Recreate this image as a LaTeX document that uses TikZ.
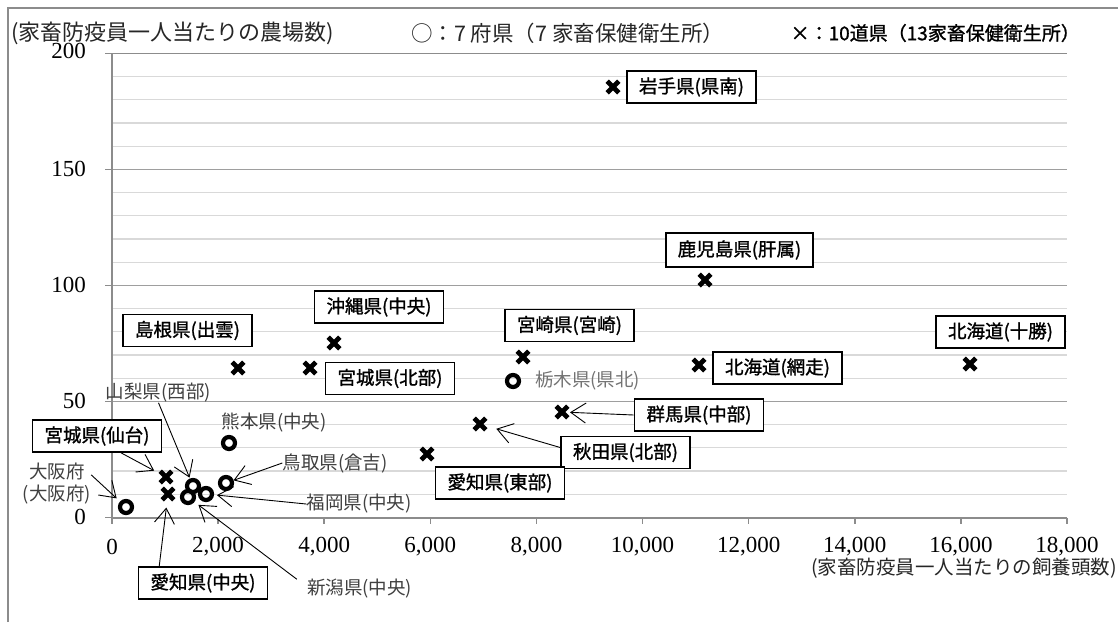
\documentclass[tikz,border=0pt]{standalone}
\usepackage{fontspec}
\setmainfont{Liberation Serif}
\newfontfamily\jp{Noto Sans CJK JP}
\newfontfamily\jpb{Noto Sans CJK JP}[FakeBold=1.2]
\usetikzlibrary{arrows.meta}
\begin{document}
\begin{tikzpicture}[x=1pt,y=-1pt,
  frame/.style={draw=black!45,line width=1.5pt},
  axisline/.style={draw=black!45,line width=1.6pt},
  minorgrid/.style={draw=black!15,line width=1.2pt},
  majorgrid/.style={draw=black!38,line width=1.4pt},
  xline/.style={line width=4.8pt,draw=black},
  omk/.style={circle,draw=black,line width=4.2pt,minimum size=12pt,inner sep=0pt},
  boxlab/.style={draw=black,line width=1.6pt,fill=white,font=\jpb\fontsize{18.5}{20}\selectfont,minimum width=129pt,minimum height=32pt,inner sep=0pt},
  plainlab/.style={font=\jp\fontsize{18.5}{22}\selectfont,text=black!75,inner sep=0pt},
  arr/.style={-{Straight Barb[length=15pt,width=20pt]},line width=0.9pt},
  ticklab/.style={font=\fontsize{23}{25}\selectfont,inner sep=0pt},
  ttl/.style={font=\jp\fontsize{20.5}{24}\selectfont,text=black!85,inner sep=0pt},
]
\useasboundingbox (0,0) rectangle (1118,622);
\fill[white] (0,0) rectangle (1118,622);
% outer frame
\draw[frame] (8,622) -- (8,8) -- (1118,8);
% grid
\foreach \v in {1,...,19} {\draw[minorgrid] (112,{517.3-23.2*\v}) -- (1067,{517.3-23.2*\v});}
\foreach \v in {1,2,3} {\draw[majorgrid] (112,{517.3-116*\v}) -- (1067,{517.3-116*\v});}
\draw[axisline] (105,53.3) -- (1067,53.3);
% axes
\draw[axisline] (112,53.3) -- (112,518) -- (1067,518);
\foreach \k in {0,...,9} {\draw[axisline] ({112+106.11*\k},518) -- ({112+106.11*\k},524);}
\foreach \k in {0,...,3} {\draw[axisline] (105,{517.3-116*\k}) -- (112,{517.3-116*\k});}
% tick labels
\foreach \k/\t in {0/0,1/{2,000},2/{4,000},3/{6,000},4/{8,000},5/{10,000},6/{12,000},7/{14,000},8/{16,000},9/{18,000}}
  {\node[ticklab] (xt\k) at ({112+106.11*\k},547) {\t};}
\foreach \k/\t in {0/0,1/50,2/100,3/150}
  {\node[ticklab,anchor=east] (yt\k) at (86,{517.3-116*\k}) {\t};}
\node[ticklab,anchor=east] (yt4) at (86,51) {200};
% titles and legend
\node[ttl,anchor=west,font=\jp\fontsize{22}{24}\selectfont] (ytitle) at (11,33) {(家畜防疫員一人当たりの農場数)};
\node[ttl,anchor=west,font=\jp\fontsize{21.5}{24}\selectfont] (leg1) at (411,33) {○：7 府県（7 家畜保健衛生所）};
\node[anchor=east,inner sep=0pt,font=\jpb\fontsize{19}{22}\selectfont] (leg2) at (1080,33) {×：10道県（13家畜保健衛生所）};
\node[ttl,anchor=east,font=\jp\fontsize{19.5}{24}\selectfont] (xtitle) at (1117,568) {(家畜防疫員一人当たりの飼養頭数)};
% cross markers
\foreach \n/\p in {iwate/{613,87},kagoshima/{705,280},abashiri/{699,365},tokachi/{970,364},shimane/{238,368},miyagiN/{310,368},okinawa/{334,343},miyazaki/{523,357},gunma/{562,412},akita/{480,424},aichiE/{427,454},sendai/{166,477},aichiC/{168,494}}
  {\coordinate (\n) at (\p);
   \draw[xline] (\n) +(-5.8,-5.8) -- +(5.8,5.8) (\n) +(-5.8,5.8) -- +(5.8,-5.8);}
% circle markers
\foreach \n/\p in {osaka/{126,507},yamanashi/{193,486},fukuoka/{206,494},niigata/{188,497},kumamoto/{229,443},tottori/{226,483},tochigi/{513,381}}
  {\coordinate (\n) at (\p);
   \node[omk] (\n M) at (\n) {};}
% boxed labels
\node[boxlab] (iwateL) at (691.5,87) {岩手県(県南)};
\node[boxlab,minimum width=147pt,minimum height=34pt] (kagoshimaL) at (739.5,250) {鹿児島県(肝属)};
\node[boxlab] (abashiriL) at (777.5,368) {北海道(網走)};
\node[boxlab] (tokachiL) at (1000.5,332) {北海道(十勝)};
\node[boxlab] (shimaneL) at (187.5,330.5) {島根県(出雲)};
\node[boxlab] (okinawaL) at (379,307) {沖縄県(中央)};
\node[boxlab] (miyagiNL) at (390,378.5) {宮城県(北部)};
\node[boxlab] (miyazakiL) at (569.5,325.5) {宮崎県(宮崎)};
\node[boxlab] (gunmaL) at (699,415) {群馬県(中部)};
\node[boxlab] (akitaL) at (625.5,452.5) {秋田県(北部)};
\node[boxlab] (aichiEL) at (500,483) {愛知県(東部)};
\node[boxlab] (sendaiL) at (97,436) {宮城県(仙台)};
\node[boxlab] (aichiCL) at (203,583) {愛知県(中央)};
% plain labels
\node[plainlab,text=black!55,anchor=west] (tochigiL) at (535,381) {栃木県(県北)};
\node[plainlab] (yamanashiL) at (158.5,393) {山梨県(西部)};
\node[plainlab] (kumamotoL) at (274,423) {熊本県(中央)};
\node[plainlab] (tottoriL) at (335,463) {鳥取県(倉吉)};
\node[plainlab] (fukuokaL) at (359,504) {福岡県(中央)};
\node[plainlab] (niigataL) at (359.5,589) {新潟県(中央)};
\node[plainlab,align=center] (osakaL) at (57,484) {大阪府\\(大阪府)};
% arrows
\draw[arr,shorten >=12.7pt] (osakaL.15) -- (osaka);
\draw[arr,shorten >=13.4pt] (sendaiL.-35) -- (sendai);
\draw[arr,shorten >=13.6pt] (aichiCL.159) -- (aichiC);
\draw[arr,shorten >=9pt] (yamanashiL.south) -- (yamanashi);
\draw[arr,shorten >=8pt] (tottoriL.west) -- (tottori);
\draw[arr,shorten >=11pt] (fukuokaL.west) -- (fukuoka);
\draw[arr,shorten >=13pt] ([xshift=-10pt]niigataL.north west) -- (niigata);
\draw[arr,shorten >=8pt] (gunmaL.west) -- (gunma);
\draw[arr,shorten >=17pt] ([yshift=5pt]akitaL.west) -- (akita);
\end{tikzpicture}
\end{document}
